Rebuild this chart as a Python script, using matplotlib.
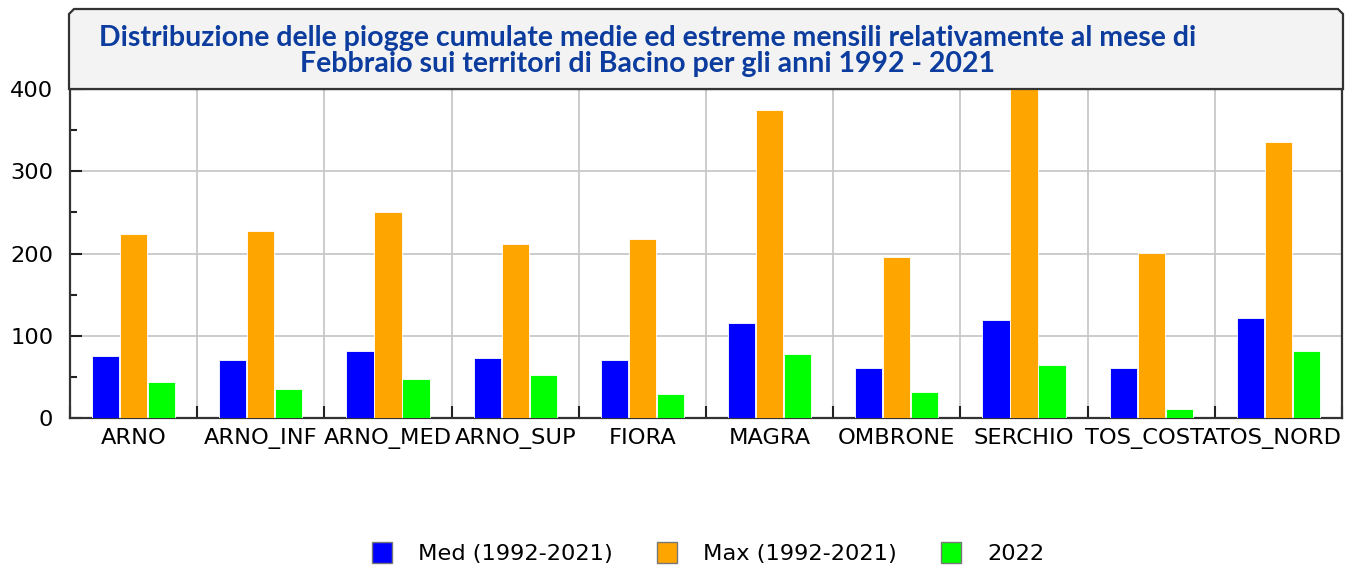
import matplotlib.pyplot as plt
import numpy as np
from matplotlib.patches import Polygon, Rectangle

# dati (mm)
bacini = ['ARNO', 'ARNO_INF', 'ARNO_MED', 'ARNO_SUP', 'FIORA',
          'MAGRA', 'OMBRONE', 'SERCHIO', 'TOS_COSTA', 'TOS_NORD']
med = [75.5, 70, 81, 73, 70, 116, 61, 119, 61, 122]
mx = [224, 227, 250, 212, 218, 375, 196, 402, 201, 335]
anno2022 = [44, 35, 47, 52, 29, 78, 32, 64, 11, 81]

titolo = ['Distribuzione delle piogge cumulate medie ed estreme mensili relativamente al mese di',
          'Febbraio sui territori di Bacino per gli anni 1992 - 2021']

serie = [('Med (1992-2021)', med, '#0000ff'),
         ('Max (1992-2021)', mx, '#ffa500'),
         ('2022', anno2022, '#00ff00')]

W, H = 1351, 567
fs = 16.2

fig = plt.figure(figsize=(W / 100, H / 100), dpi=100)
ax = fig.add_axes([70 / W, 1 - 418 / H, 1272 / W, 329 / H])

x = np.arange(len(bacini))
for i, (nome, vals, col) in enumerate(serie):
    ax.bar(x + (i - 1) * 0.22, vals, width=0.214, color=col,
           edgecolor='white', linewidth=0.6, label=nome, zorder=3)

ax.set_xlim(-0.5, len(bacini) - 0.5)
ax.set_ylim(0, 400)

ax.set_xticks(x)
ax.set_xticklabels(bacini, fontsize=fs)
ax.set_xticks(np.arange(len(bacini) + 1) - 0.5, minor=True)
ax.tick_params(axis='x', which='major', length=0, pad=7)
ax.tick_params(axis='x', which='minor', direction='in', length=9, width=1.5,
               color='#222222')

ax.set_yticks([0, 100, 200, 300, 400])
ax.set_yticks([50, 150, 250, 350], minor=True)
ax.tick_params(axis='y', which='major', direction='in', length=8.5, width=1.5,
               color='#222222', labelsize=fs, pad=12)
ax.tick_params(axis='y', which='minor', direction='in', length=5, width=1.5,
               color='#222222')

ax.grid(axis='x', which='minor', color='#c8c8c8', linewidth=1.3, zorder=0)
ax.grid(axis='y', which='major', color='#c8c8c8', linewidth=1.3, zorder=0)
ax.set_axisbelow(True)
for s in ax.spines.values():
    s.set_color('#333333')
    s.set_linewidth(1.6)

# riquadro del titolo con angoli smussati
pts = [(69, 89), (69, 14), (74, 9), (1338, 9), (1343, 14), (1343, 89)]
box = Polygon([(px / W, 1 - py / H) for px, py in pts], closed=True,
              transform=fig.transFigure, facecolor='#f3f3f3',
              edgecolor='#333333', linewidth=1.6)
fig.patches.append(box)
for riga, yb in zip(titolo, [46, 72]):
    fig.text(648 / W, 1 - yb / H, riga, ha='center', va='baseline',
             fontsize=20.5, fontweight='bold', color='#0b3c9e',
             family=['Lato', 'DejaVu Sans'])

handles = [Rectangle((0, 0), 1, 1, facecolor=c, edgecolor='#777777', linewidth=1)
           for _, _, c in serie]
fig.legend(handles, [s[0] for s in serie], loc='center',
           bbox_to_anchor=(708 / W, 1 - 553 / H), ncol=3, frameon=False,
           fontsize=fs, handlelength=0.9, handleheight=1.05,
           handletextpad=1.15, columnspacing=1.95)

fig.savefig('out.png', dpi=100)
